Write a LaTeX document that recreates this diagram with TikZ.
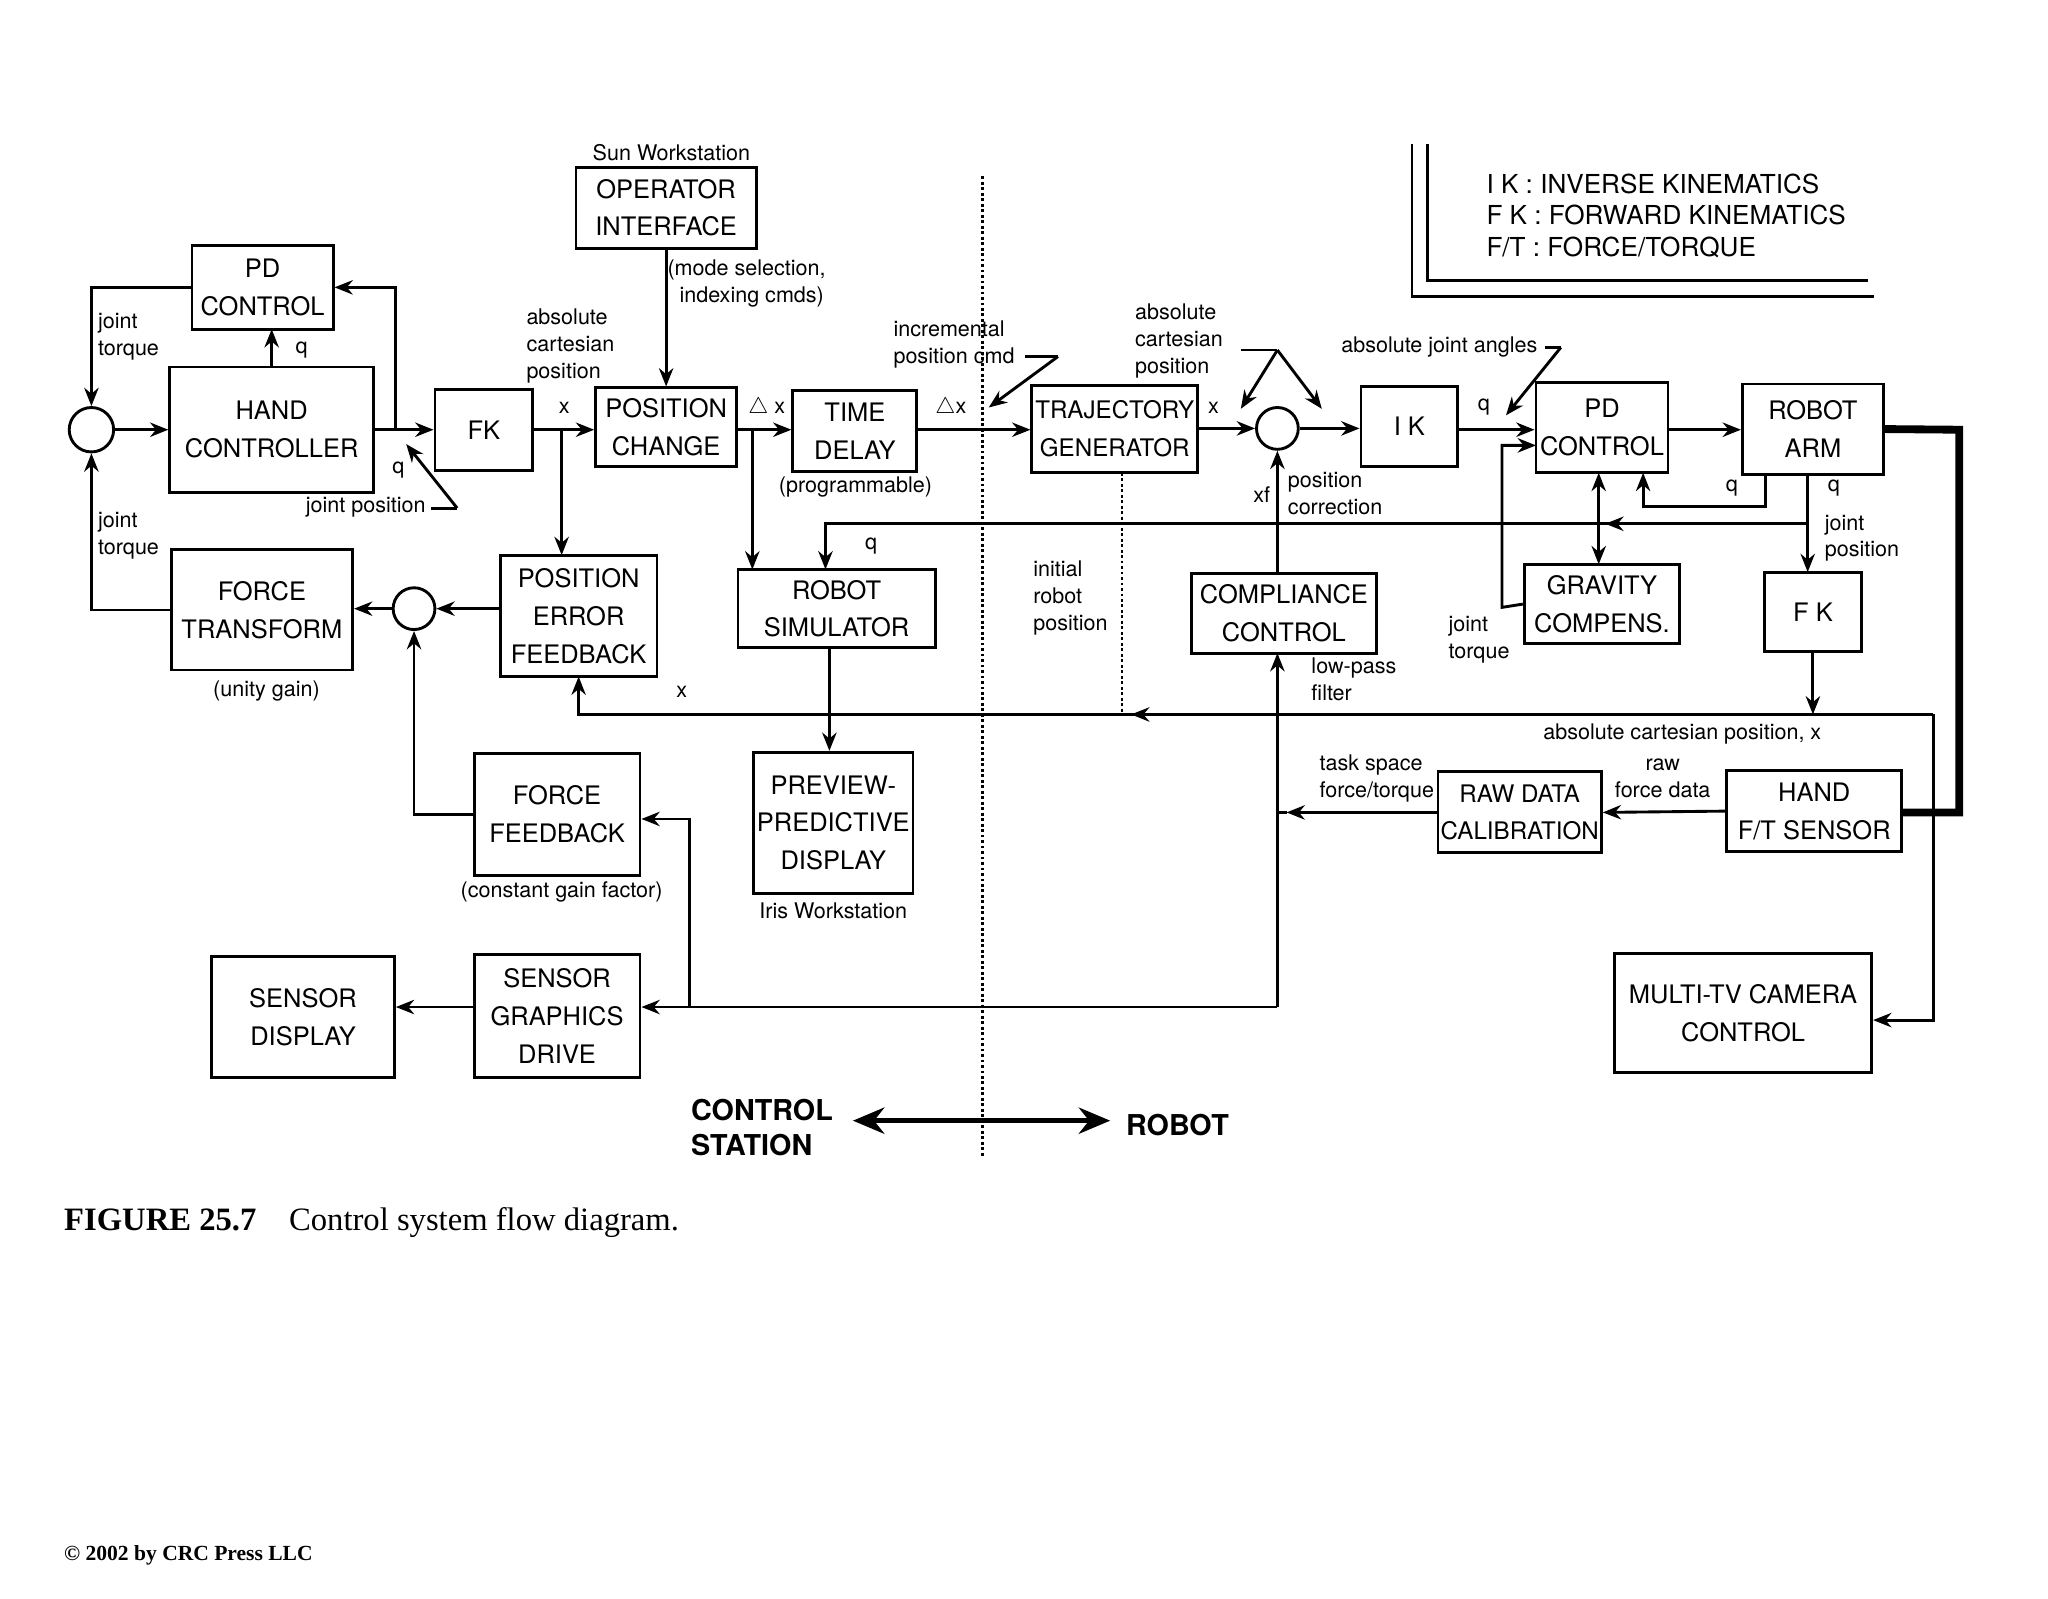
\documentclass[tikz,border=0pt]{standalone}
\usepackage{fontspec}
\setmainfont{TeX Gyre Heros}
\newfontfamily\tms{Liberation Serif}
\usetikzlibrary{arrows.meta,calc}
\begin{document}
\begin{tikzpicture}[x=1pt,y=-1pt,
 line width=2.2pt,
 >={Stealth[length=14pt,width=11pt]},
 box/.style={draw,inner sep=0pt,align=center,font=\fontsize{19.5}{29}\selectfont},
 sm/.style={circle,draw,minimum size=32pt,inner sep=0pt},
 lab/.style={font=\fontsize{16.5}{20.5}\selectfont,align=left,inner sep=0pt},
 labc/.style={font=\fontsize{16.5}{20.5}\selectfont,align=center,inner sep=0pt}]
\useasboundingbox (0,0) rectangle (1568,1224);
% boxes
\node[box,minimum width=108pt,minimum height=64pt] (pdl) at (201,220) {PD\\CONTROL};
\node[box,minimum width=156pt,minimum height=96pt] (hc) at (208,329) {HAND\\CONTROLLER};
\node[box,minimum width=75pt,minimum height=62pt] (fk) at (370.5,329) {FK};
\node[box,minimum width=108pt,minimum height=60pt] (pc) at (510,327) {POSITION\\CHANGE};
\node[box,minimum width=138pt,minimum height=62pt] (oi) at (510,159) {OPERATOR\\INTERFACE};
\node[box,minimum width=95pt,minimum height=62pt] (td) at (654.5,330) {TIME\\DELAY};
\node[box,minimum width=127pt,minimum height=67pt,font=\fontsize{18.5}{29}\selectfont] (tg) at (853.5,328.5) {TRAJECTORY\\GENERATOR};
\node[sm] (s2) at (978,328) {};
\node[box,minimum width=74pt,minimum height=61pt] (ik) at (1079,326.5) {I K};
\node[box,minimum width=101pt,minimum height=69pt] (pdr) at (1226.5,327.5) {PD\\CONTROL};
\node[box,minimum width=108pt,minimum height=69pt] (ra) at (1388,328.5) {ROBOT\\ARM};
\node[box,minimum width=74pt,minimum height=61pt] (fkr) at (1388,468.5) {F K};
\node[box,minimum width=119pt,minimum height=61pt] (gc) at (1226.5,462.5) {GRAVITY\\COMPENS.};
\node[box,minimum width=142pt,minimum height=61pt] (cc) at (983,469.5) {COMPLIANCE\\CONTROL};
\node[box,minimum width=151pt,minimum height=60pt] (rs) at (640.5,466) {ROBOT\\SIMULATOR};
\node[box,minimum width=120pt,minimum height=93pt] (pef) at (443,471.5) {POSITION\\ERROR\\FEEDBACK};
\node[sm] (s3) at (317,466) {};
\node[box,minimum width=139pt,minimum height=92pt] (ft) at (200.5,467) {FORCE\\TRANSFORM};
\node[box,minimum width=127pt,minimum height=93pt] (ff) at (426.5,623.5) {FORCE\\FEEDBACK};
\node[box,minimum width=122pt,minimum height=108pt] (pd) at (638,630) {PREVIEW-\\PREDICTIVE\\DISPLAY};
\node[box,minimum width=125pt,minimum height=62pt,font=\fontsize{18.5}{29}\selectfont] (rd) at (1163.5,622) {RAW DATA\\CALIBRATION};
\node[box,minimum width=134pt,minimum height=62pt] (hs) at (1389,621) {HAND\\F/T SENSOR};
\node[box,minimum width=197pt,minimum height=91pt] (mtv) at (1334.5,775.5) {MULTI-TV CAMERA\\CONTROL};
\node[box,minimum width=140pt,minimum height=93pt] (sd) at (232,778.5) {SENSOR\\DISPLAY};
\node[box,minimum width=127pt,minimum height=94pt] (sg) at (426.5,778) {SENSOR\\GRAPHICS\\DRIVE};
\node[sm,minimum size=34pt] (s1) at (70,329) {};
% coordinates
\coordinate (jpA) at (350,389);
\coordinate (icA) at (810,273);
\coordinate (acA) at (978,268);
\coordinate (ajA) at (1195,266);
\coordinate (br1) at (1480,547);
\coordinate (bl) at (653,858);
\coordinate (br) at (850,858);
% connectors
\draw[->] (s1) -- (hc.west |- s1);
\draw[->] (208,281) -- (208,252);
\draw[->] (hc.east) -- (fk.west);
\draw[->] (303,329) -- (303,220) -- (pdl.east |- 0,220);
\draw[->] (pdl.west) -| (s1.north);
\draw[->] (ft.west) -| (s1.south);
\draw[->] (jpA) -- (311,340);
\draw (330,389) -- (jpA);
\draw[->] (fk.east) -- (fk.east -| pc.west);
\draw[->] (430,329) -- (430,425);
\draw[->] (oi.south) -- (pc.north);
\draw[->] (pc.east |- 0,329) -- (td.west |- 0,329);
\draw[->] (576,329) -- (576,436);
\draw[->] (td.east |- 0,329) -- (tg.west |- 0,329);
\draw (785,273) -- (icA);
\draw[->] (icA) -- (757,312);
\draw[->] (tg.east |- s2) -- (s2.west);
\draw (950,268) -- (acA);
\draw[->] (acA) -- (950,313);
\draw[->] (acA) -- (1012,313);
\draw[->] (s2.east) -- (ik.west |- s2);
\draw[->] (ik.east |- 0,329) -- (pdr.west |- 0,329);
\draw (1183,266) -- (ajA);
\draw[->] (ajA) -- (1153,318);
\draw[->] (pdr.east |- 0,329) -- (ra.west |- 0,329);
\draw[->] (1352,363) -- (1352,388) -- (1258,388) -- (1258,362);
\draw[->] (1384,363) -- (1384,438);
\draw[->] (1384,401) -- (632,401) -- (632,436);
\draw[->] (1384,401) -- (1229,401);
\draw[<->] (1224,362) -- (1224,432);
\draw[->] (gc.west) -- (1150,465) -- (1150,341) -- (1176,341);
\draw[->] (fkr.south) -- (fkr.south |- br1);
\draw[->] (br1) -- (443,547) -- (443,518);
\draw[->] (br1) -- (866,547);
\draw[->] (br1) -- (1480,781) -- (mtv.east |- 0,781);
\draw[->] (cc.north -| s2) -- (s2.south);
\draw[->] (hs.west) -- (rd.east);
\draw[->] (rd.west) -- (985,622);
\draw (985,622) -- (978,622);
\draw[->] (978,771) -- (978,500);
\draw[->] (978,771) -- (sg.east |- 0,771);
\draw[->] (528,771) -- (528,627) -- (ff.east |- 0,627);
\draw[->] (ff.west) -| (s3.south);
\draw[->] (pef.west |- s3) -- (s3.east);
\draw[->] (s3.west) -- (ft.east |- s3);
\draw[->] (sg.west |- 0,771) -- (sd.east |- 0,771);
\draw[->] (rs.south -| 635,0) -- (pd.north -| 635,0);
\draw[line width=6pt] (ra.east) -- (1500,329) -- (1500,622) -- (hs.east |- 0,622);
\draw[dotted,line width=2.2pt] (752,135) -- (752,885);
\draw[dotted,line width=2.2pt] (859,362) -- (859,547);
% legend
\draw (1081,110) -- (1081,227) -- (1435,227);
\draw (1093,110) -- (1093,215) -- (1430,215);
\node[lab,font=\fontsize{20}{24}\selectfont,anchor=north west] (leg) at (1137,132) {I K : INVERSE KINEMATICS\\F K : FORWARD KINEMATICS\\F/T : FORCE/TORQUE};
% bottom
\node[lab,font=\bfseries\fontsize{22}{27}\selectfont,anchor=west] (cs) at (528,863) {CONTROL\\STATION};
\node[lab,font=\bfseries\fontsize{22}{27}\selectfont,anchor=west] (rb) at (861,861) {ROBOT};
\draw[{Stealth[length=24pt,width=20pt]}-{Stealth[length=24pt,width=20pt]},line width=4pt] (bl) -- (br);
% labels
\node[labc] (l1) at (514,117) {Sun Workstation};
\node[lab,anchor=west] (l2) at (74,258) {joint\\torque};
\node[lab,anchor=west] (l3) at (74,410) {joint\\torque};
\node[lab] (l4) at (231,268) {q};
\node[lab] (l5) at (305,360) {q};
\node[lab,anchor=east] (l6) at (327,388) {joint position};
\node[lab,anchor=west] (l7) at (402,265) {absolute\\cartesian\\position};
\node[lab] (l8) at (432,312) {x};
\node[lab,anchor=west] (l9) at (510,217) {(mode selection,\\\ \ indexing cmds)};
\node[lab] (l10) at (587,312) {$\bigtriangleup$ x};
\node[lab] (l11) at (728,312) {$\bigtriangleup$x};
\node[lab,anchor=west] (l12) at (683,264) {incremental\\position cmd};
\node[lab] (l13) at (655,373) {(programmable)};
\node[lab] (l14) at (929,312) {x};
\node[lab,anchor=west] (l15) at (868,261) {absolute\\cartesian\\position};
\node[lab] (l16) at (1102,266) {absolute joint angles};
\node[lab] (l17) at (1136,312) {q};
\node[lab] (l18) at (1326,374) {q};
\node[lab] (l19) at (1404,374) {q};
\node[lab,anchor=west] (l20) at (1396,412) {joint\\position};
\node[lab] (l21) at (667,418) {q};
\node[lab] (l22) at (966,379) {xf};
\node[lab,anchor=west] (l23) at (985,378) {position\\correction};
\node[lab,anchor=west] (l24) at (790,458) {initial\\robot\\position};
\node[lab,anchor=west] (l25) at (1108,490) {joint\\torque};
\node[lab,anchor=west] (l26) at (1003,520) {low-pass\\filter};
\node[lab] (l27) at (522,530) {x};
\node[lab] (l28) at (1288,562) {absolute cartesian position, x};
\node[labc] (l29) at (1273,596) {raw\\force data};
\node[lab,anchor=east] (l30) at (1099,596) {task space\\force/torque};
\node[lab] (l31) at (204,529) {(unity gain)};
\node[lab] (l32) at (430,683) {(constant gain factor)};
\node[lab] (l33) at (638,697) {Iris Workstation};
\node[anchor=west,inner sep=0pt,font=\tms\fontsize{25}{28}\selectfont] (cap) at (48,936) {\textbf{FIGURE 25.7}\quad Control system flow diagram.};
\node[anchor=west,inner sep=0pt,font=\tms\bfseries\fontsize{16.5}{18}\selectfont] (cr) at (48,1191) {\textcopyright\ 2002 by CRC Press LLC};
\end{tikzpicture}
\end{document}
